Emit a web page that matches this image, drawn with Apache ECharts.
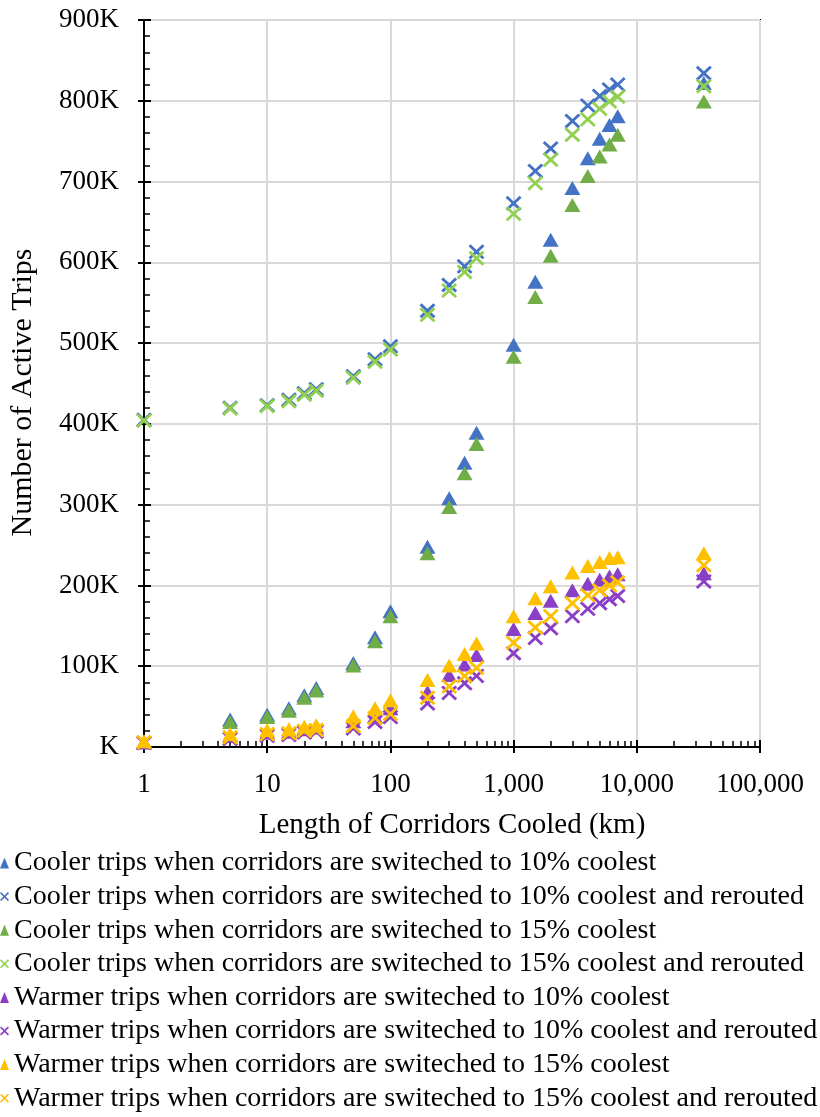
<!DOCTYPE html>
<html>
<head>
<meta charset="utf-8">
<script src="https://cdn.jsdelivr.net/npm/echarts@6/dist/echarts.min.js"></script>
<style>
html,body{margin:0;padding:0;background:#fff;}
#c{width:820px;height:1117px;}
</style>
</head>
<body>
<div id="c"></div>
<script>
// Length of corridors cooled (km)
const lengths = [1,5,10,15,20,25,50,75,100,200,300,400,500,1000,1500,2000,3000,4000,5000,6000,7000,35000];
// Number of active trips (thousands)
const cooler10 = [6,34,40,48,64,73,104,136,168,248,308,352,389,498,576,628,692,729,753,770,781,822];
const cooler10R = [405,420,423,430,438,443,459,480,496,540,572,595,613,673,713,741,775,794,806,814,820,834];
const cooler15 = [6,31,37,45,61,70,101,131,162,240,297,339,375,483,557,608,671,707,731,746,758,799];
const cooler15R = [404,419,422,428,436,441,457,477,492,535,565,588,605,660,698,727,758,777,790,799,805,818];
const warmer10 = [6,14,18,19,22,24,32,38,48,68,89,102,114,146,166,181,194,202,207,211,214,215];
const warmer10R = [5,10,14,15,18,19,23,31,37,54,67,79,88,116,135,147,162,171,178,183,187,205];
const warmer15 = [7,16,21,22,25,27,38,48,58,83,101,115,128,162,184,199,216,224,229,234,235,240];
const warmer15R = [6,12,16,17,20,21,26,36,41,61,75,88,98,129,148,162,178,188,194,200,204,225];

const seriesNames = [
  'Cooler trips when corridors are switeched to 10% coolest',
  'Cooler trips when corridors are switeched to 10% coolest and rerouted',
  'Cooler trips when corridors are switeched to 15% coolest',
  'Cooler trips when corridors are switeched to 15% coolest and rerouted',
  'Warmer trips when corridors are switeched to 10% coolest',
  'Warmer trips when corridors are switeched to 10% coolest and rerouted',
  'Warmer trips when corridors are switeched to 15% coolest',
  'Warmer trips when corridors are switeched to 15% coolest and rerouted'
];
const seriesValues = [cooler10, cooler10R, cooler15, cooler15R, warmer10, warmer10R, warmer15, warmer15R];
const seriesColors = ['#4472C4','#4472C4','#70AD47','#92D050','#8B3FC6','#8B3FC6','#FFC000','#FFC000'];
const seriesIsCross = [false,true,false,true,false,true,false,true];

const FONT = 'Liberation Serif';
const CROSS = 'path://M0,2.6 L2.6,0 L10,7.4 L17.4,0 L20,2.6 L12.6,10 L20,17.4 L17.4,20 L10,12.6 L2.6,20 L0,17.4 L7.4,10 Z';

const minorX = [];
for (let d = 0; d < 5; d++) for (let m = 2; m <= 9; m++) minorX.push(m * Math.pow(10, d));

const gridRect = {left: 144, right: 60, top: 20, bottom: 370};

const series = seriesNames.map((name, i) => ({
  name: name,
  type: 'scatter',
  xAxisIndex: 0, yAxisIndex: 0,
  clip: false,
  symbol: seriesIsCross[i] ? CROSS : 'triangle',
  symbolSize: seriesIsCross[i] ? [16, 15] : [16, 14],
  itemStyle: {color: seriesColors[i], opacity: 1},
  emphasis: {disabled: true},
  data: lengths.map((x, j) => [x, seriesValues[i][j] * 1000])
}));

const chart = echarts.init(document.getElementById('c'), null, {renderer: 'canvas'});
chart.setOption({
  animation: false,
  backgroundColor: '#fff',
  textStyle: {fontFamily: FONT, color: '#000'},
  grid: [
    Object.assign({show: true, borderColor: '#000', borderWidth: 2, backgroundColor: 'transparent'}, gridRect),
    Object.assign({}, gridRect),
    Object.assign({}, gridRect)
  ],
  xAxis: [
    {
      type: 'log', logBase: 10, min: 1, max: 100000, gridIndex: 0,
      name: 'Length of Corridors Cooled (km)', nameLocation: 'middle', nameGap: 64,
      nameTextStyle: {fontFamily: FONT, fontSize: 29, color: '#000'},
      axisLine: {show: true, lineStyle: {color: '#000', width: 2}},
      axisTick: {show: true, inside: true, length: 7, lineStyle: {color: '#000', width: 2}},
      minorTick: {show: false},
      axisLabel: {fontFamily: FONT, fontSize: 27, color: '#000', margin: 24,
        formatter: v => Math.round(v).toLocaleString('en-US')},
      splitLine: {show: true, lineStyle: {color: '#D9D9D9', width: 2}}
    },
    {
      type: 'log', logBase: 10, min: 1, max: 100000, gridIndex: 1,
      axisLine: {show: false},
      axisTick: {show: true, inside: false, length: 6, lineStyle: {color: '#000', width: 2}},
      axisLabel: {show: false}, splitLine: {show: false}
    },
    {
      type: 'log', logBase: 10, min: 1, max: 100000, gridIndex: 2,
      axisLine: {show: false},
      axisTick: {show: true, inside: true, length: 6, customValues: minorX, lineStyle: {color: '#000', width: 1.5}},
      axisLabel: {show: false}, splitLine: {show: false}
    }
  ],
  yAxis: [
    {
      type: 'value', min: 0, max: 900000, interval: 100000, gridIndex: 0,
      name: 'Number of Active Trips', nameLocation: 'middle', nameGap: 106,
      nameTextStyle: {fontFamily: FONT, fontSize: 30, color: '#000', padding: [0, 18, 0, 0]},
      axisLine: {show: true, lineStyle: {color: '#000', width: 2}},
      axisTick: {show: true, inside: true, length: 7, lineStyle: {color: '#000', width: 2}},
      minorTick: {show: true, splitNumber: 5, length: 6, lineStyle: {color: '#000', width: 1.5}},
      axisLabel: {fontFamily: FONT, fontSize: 27, color: '#000', margin: 25,
        formatter: v => (v === 0 ? '' : Math.round(v / 1000)) + 'K'},
      splitLine: {show: true, lineStyle: {color: '#D9D9D9', width: 2}}
    },
    {
      type: 'value', min: 0, max: 900000, interval: 100000, gridIndex: 1,
      axisLine: {show: false},
      axisTick: {show: true, inside: false, length: 6, lineStyle: {color: '#000', width: 2}},
      axisLabel: {show: false}, splitLine: {show: false}
    },
    {
      type: 'value', min: 0, max: 900000, interval: 100000, gridIndex: 2, show: false
    }
  ],
  legend: {
    orient: 'vertical', left: 0, top: 849, height: 268, padding: 0,
    itemWidth: 9, itemHeight: 11, itemGap: 5.6,
    selectedMode: false,
    textStyle: {fontFamily: FONT, fontSize: 28, color: '#000', lineHeight: 28},
    data: seriesNames
  },
  series: series
});
</script>
</body>
</html>
